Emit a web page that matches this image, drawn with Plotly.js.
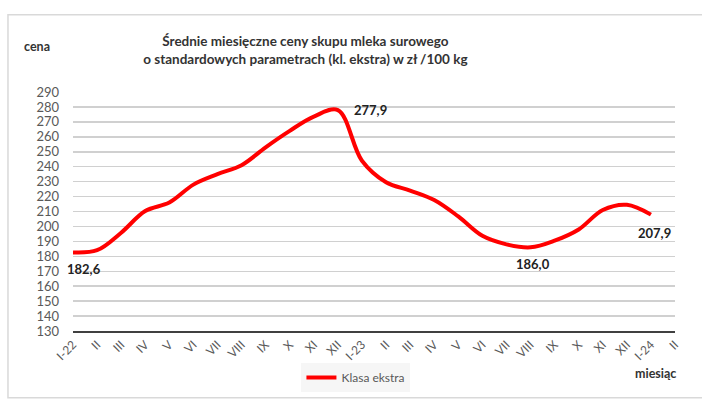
<!DOCTYPE html>
<html>
<head>
<meta charset="utf-8">
<script src="https://cdn.plot.ly/plotly-3.0.1.min.js"></script>
<style>
  html, body { margin: 0; padding: 0; background: #fff; }
  #chart { width: 702px; height: 404px; }
</style>
</head>
<body>
<div id="chart"></div>
<script>
// miesiące od I-22 do II-24
var months = ['I-22','II','III','IV','V','VI','VII','VIII','IX','X','XI','XII',
              'I-23','II','III','IV','V','VI','VII','VIII','IX','X','XI','XII',
              'I-24','II'];
// ceny kl. ekstra, zł/100 kg (I-22 .. I-24)
var prices = [182.6, 184.1, 195.8, 210.3, 216.0, 228.0, 235.0, 241.0, 253.0, 264.0, 273.5, 277.9,
              244.0, 229.6, 224.0, 217.7, 206.7, 193.7, 188.0, 186.0, 190.5, 198.0, 211.0, 214.5,
              207.9];
var seriesName = 'Klasa ekstra';
// punkty z etykietą
var labelIdx = [0, 11, 19, 24];
var labelShift = [[11, -17], [33, 0], [2, -17], [4, -18]];

var xs = prices.map(function (v, i) { return i; });

function fmt(v) { return v.toFixed(1).replace('.', ','); }

var fontFam = 'Lato, "Liberation Sans", sans-serif';

var annotations = labelIdx.map(function (i, k) {
  return {
    x: i, y: prices[i], xref: 'x', yref: 'y',
    text: '<b>' + fmt(prices[i]) + '</b>',
    showarrow: false,
    xshift: labelShift[k][0], yshift: labelShift[k][1],
    xanchor: 'center', yanchor: 'middle',
    font: { size: 13, color: '#222', family: fontFam }
  };
});

annotations.push({
  xref: 'paper', yref: 'paper', x: -0.06, y: 1.192,
  xanchor: 'center', yanchor: 'middle',
  text: '<b>cena</b>', showarrow: false,
  font: { size: 12.5, color: '#333', family: fontFam }
});
annotations.push({
  xref: 'paper', yref: 'paper', x: 1.005, y: -0.176,
  xanchor: 'right', yanchor: 'middle',
  text: '<b>miesiąc</b>', showarrow: false,
  font: { size: 12.5, color: '#333', family: fontFam }
});

var data = [{
  type: 'scatter',
  mode: 'lines',
  x: xs,
  y: prices,
  name: seriesName,
  line: { color: '#ff0000', width: 4, shape: 'spline', smoothing: 1 }
}];

var layout = {
  width: 702,
  height: 404,
  margin: { l: 73, r: 27, t: 92, b: 69 },
  paper_bgcolor: '#fff',
  plot_bgcolor: '#fff',
  font: { family: fontFam, color: '#595959' },
  title: {
    text: '<b>Średnie miesięczne ceny skupu mleka surowego<br>o standardowych parametrach (kl. ekstra) w zł /100 kg</b>',
    x: 0.435, xanchor: 'center', xref: 'container',
    y: 0.885, yanchor: 'top', yref: 'container',
    font: { size: 13.5, color: '#333', family: fontFam }
  },
  xaxis: {
    range: [0, 25],
    tickvals: months.map(function (m, i) { return i; }),
    ticktext: months,
    tickangle: -45,
    tickfont: { size: 12, color: '#595959' },
    showgrid: false,
    zeroline: false,
    showline: true,
    linecolor: '#404040',
    linewidth: 2,
    ticks: ''
  },
  yaxis: {
    range: [130, 290],
    dtick: 10,
    tick0: 130,
    tickfont: { size: 13, color: '#595959' },
    gridcolor: '#d0d0d0',
    gridwidth: 1.5,
    zeroline: false,
    showline: false,
    ticks: '',
    ticklabelstandoff: 13
  },
  showlegend: true,
  legend: {
    x: 0.47, y: -0.195, xanchor: 'center', yanchor: 'middle',
    bgcolor: '#f6f6f6',
    font: { size: 12, color: '#595959', family: fontFam },
    orientation: 'h'
  },
  annotations: annotations,
  shapes: [{
    type: 'rect', xref: 'paper', yref: 'paper',
    x0: -0.108, x1: 1.06, y0: -0.279, y1: 1.323,
    line: { color: '#d9d9d9', width: 1.5 },
    fillcolor: 'rgba(0,0,0,0)',
    layer: 'below'
  }]
};

Plotly.newPlot('chart', data, layout, { displayModeBar: false, staticPlot: true });
</script>
</body>
</html>
